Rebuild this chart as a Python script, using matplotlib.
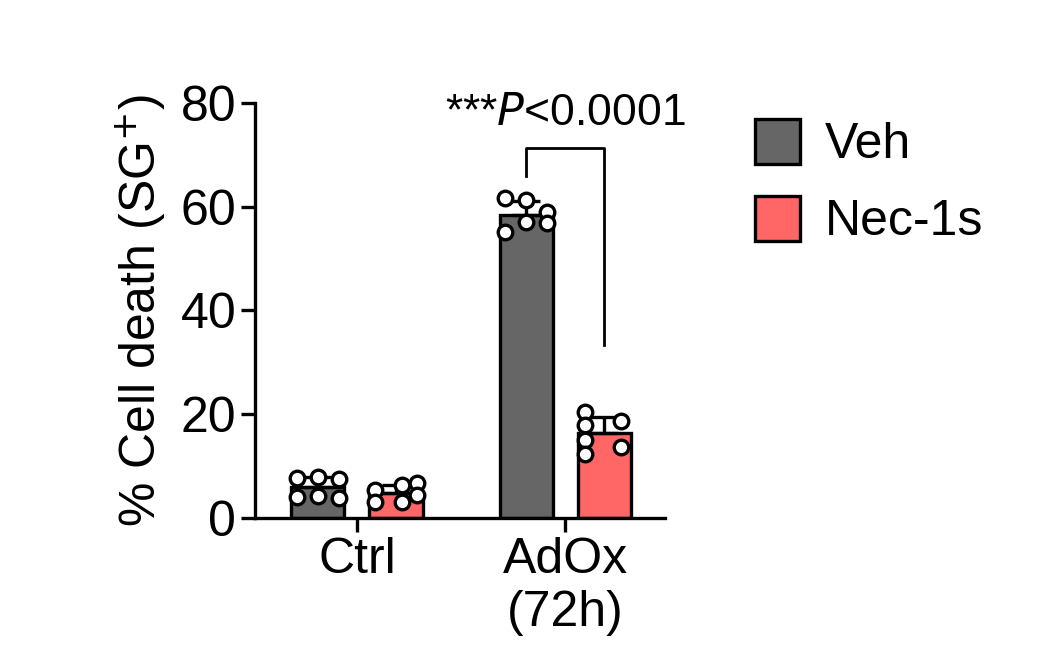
import numpy as np
import matplotlib
matplotlib.use("Agg")
import matplotlib.pyplot as plt

plt.rcParams["font.family"] = "Liberation Sans"

groups = ["Ctrl", "AdOx\n(72h)"]
treatments = ["Veh", "Nec-1s"]
colors = ["#666666", "#ff6666"]

# individual replicate values, per group per treatment
points = {
    ("Ctrl", "Veh"): [7.7, 4.0, 7.9, 4.2, 7.6, 3.9],
    ("Ctrl", "Nec-1s"): [5.4, 3.1, 6.4, 3.1, 6.7, 4.4],
    ("AdOx\n(72h)", "Veh"): [61.6, 55.1, 61.3, 57.0, 59.0, 56.8],
    ("AdOx\n(72h)", "Nec-1s"): [20.4, 17.9, 15.0, 12.3, 18.7, 13.7],
}
jitter = [-0.1, -0.1, 0.0, 0.0, 0.1, 0.1]
jitter_nec = {("Ctrl", "Nec-1s"): [-0.1, -0.1, 0.03, 0.03, 0.1, 0.1],
              ("AdOx\n(72h)", "Nec-1s"): [-0.09, -0.09, -0.09, -0.09, 0.08, 0.08]}

fig = plt.figure(figsize=(10.49, 6.62), dpi=100)
ax = fig.add_axes([0.243, 0.2175, 0.391, 0.627])

off = 0.1875
w = 0.255
for gi, g in enumerate(groups):
    for ti, t in enumerate(treatments):
        x = gi + (-off if ti == 0 else off)
        vals = np.array(points[(g, t)])
        m, sd = vals.mean(), vals.std(ddof=1)
        ax.bar(x, m, width=w, color=colors[ti], edgecolor="black", linewidth=2.4, zorder=2,
               label=t if gi == 0 else None)
        ax.errorbar(x, m, yerr=[[0], [sd]], fmt="none", ecolor="black",
                    elinewidth=2.4, capsize=10, capthick=2.4, zorder=3)
        jit = jitter_nec.get((g, t), jitter)
        ax.scatter(x + np.array(jit), vals, s=110, facecolor="white",
                   edgecolor="black", linewidth=2.4, zorder=4)

# significance bracket
xa, xb = 1 - off, 1 + off
ax.plot([xa, xa, xb, xb], [66, 71.3, 71.3, 33.3], color="black", lw=2, clip_on=False)
ax.text(1, 78, "***$\\it{P}$<0.0001", ha="center", va="center", fontsize=32)

ax.set_xlim(-0.49, 1.48)
ax.set_ylim(0, 80)
ax.set_yticks([0, 20, 40, 60, 80])
ax.set_xticks([0, 1])
ax.set_xticklabels(groups)
ax.tick_params(axis="both", labelsize=36, width=2.4, length=10)
ax.set_ylabel("% Cell death (SG$^{+}$)", fontsize=36, labelpad=8)
for s in ["top", "right"]:
    ax.spines[s].set_visible(False)
for s in ["left", "bottom"]:
    ax.spines[s].set_linewidth(2.4)

ax.legend(loc="upper left", bbox_to_anchor=(1.11, 1.07), frameon=False, fontsize=36,
          handlelength=0.9, handleheight=1.0, handletextpad=0.5, labelspacing=0.55)

fig.savefig("out.png", dpi=100)
